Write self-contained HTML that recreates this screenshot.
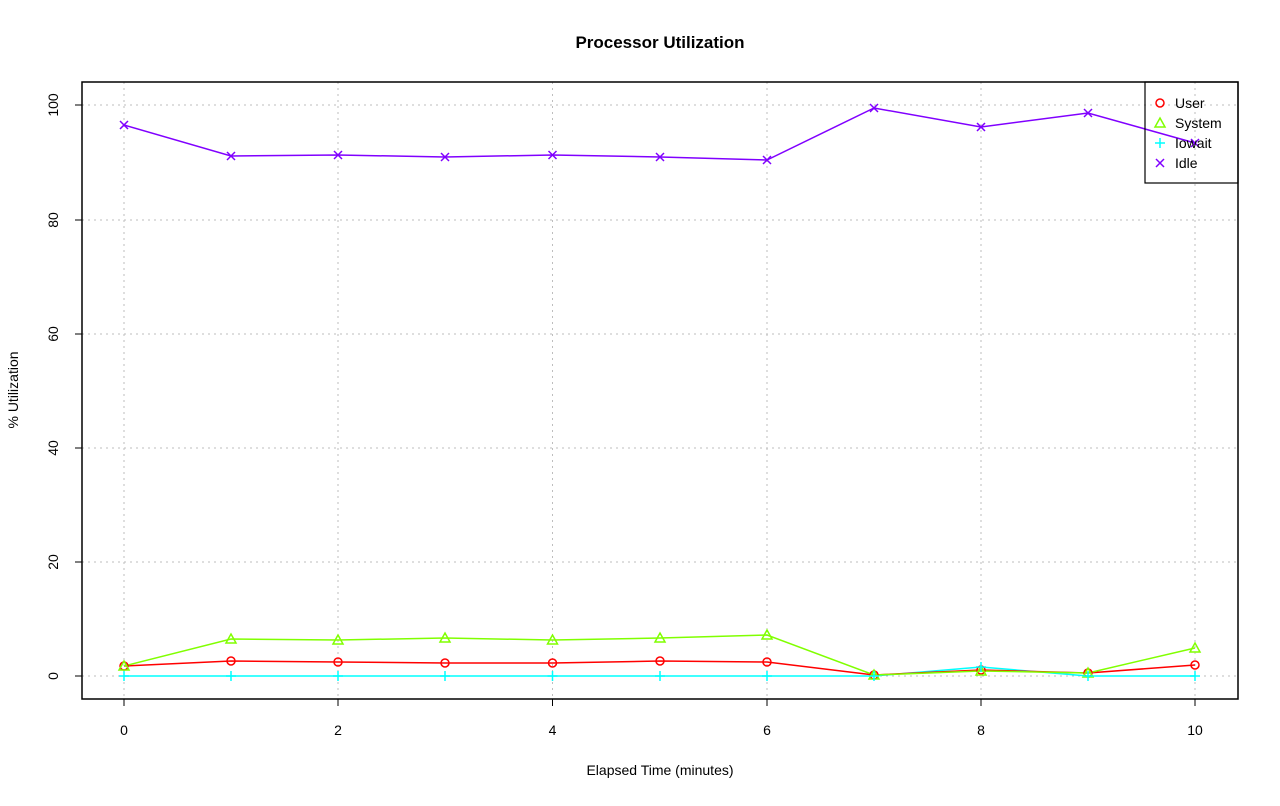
<!DOCTYPE html>
<html><head><style>body{margin:0;background:#fff}</style></head><body>
<svg width="1280" height="801" xmlns="http://www.w3.org/2000/svg" font-family="Liberation Sans, sans-serif">
<rect width="1280" height="801" fill="#fff"/>
<text x="660" y="48" text-anchor="middle" font-size="17" font-weight="bold">Processor Utilization</text>
<g stroke="#bebebe" stroke-dasharray="2,4" stroke-width="1">
<line x1="124" y1="82" x2="124" y2="699"/><line x1="338" y1="82" x2="338" y2="699"/><line x1="552.5" y1="82" x2="552.5" y2="699"/><line x1="767" y1="82" x2="767" y2="699"/><line x1="981" y1="82" x2="981" y2="699"/><line x1="1195" y1="82" x2="1195" y2="699"/>
<line x1="82" y1="676" x2="1238" y2="676"/><line x1="82" y1="562" x2="1238" y2="562"/><line x1="82" y1="448" x2="1238" y2="448"/><line x1="82" y1="334" x2="1238" y2="334"/><line x1="82" y1="220" x2="1238" y2="220"/><line x1="82" y1="105" x2="1238" y2="105"/>
</g>
<rect x="82" y="82" width="1156" height="617" fill="none" stroke="#000" stroke-width="1.5"/>
<g stroke="#000"><line x1="124" y1="699" x2="1195" y2="699"/>
<line x1="124" y1="699" x2="124" y2="706"/><line x1="338" y1="699" x2="338" y2="706"/><line x1="552.5" y1="699" x2="552.5" y2="706"/><line x1="767" y1="699" x2="767" y2="706"/><line x1="981" y1="699" x2="981" y2="706"/><line x1="1195" y1="699" x2="1195" y2="706"/>
<line x1="82" y1="105" x2="82" y2="676"/>
<line x1="75" y1="676" x2="82" y2="676"/><line x1="75" y1="562" x2="82" y2="562"/><line x1="75" y1="448" x2="82" y2="448"/><line x1="75" y1="334" x2="82" y2="334"/><line x1="75" y1="220" x2="82" y2="220"/><line x1="75" y1="105" x2="82" y2="105"/></g>
<g font-size="14" text-anchor="middle">
<text x="124" y="735">0</text><text x="338" y="735">2</text><text x="552.5" y="735">4</text><text x="767" y="735">6</text><text x="981" y="735">8</text><text x="1195" y="735">10</text>
<text x="660" y="775">Elapsed Time (minutes)</text>
<g transform="rotate(-90)"><text x="-676" y="58">0</text><text x="-562" y="58">20</text><text x="-448" y="58">40</text><text x="-334" y="58">60</text><text x="-220" y="58">80</text><text x="-105" y="58">100</text><text x="-390" y="18">% Utilization</text></g>
</g>
<g fill="none" stroke-width="1.5">
<polyline stroke="#00ffff" points="124,676 231,676 338,676 445,676 552.5,676 660,676 767,676 874,676 981,667 1088,676 1195,676"/>
<polyline stroke="#ff0000" points="124,666 231,661 338,662 445,663 552.5,663 660,661 767,662 874,675 981,670 1088,673 1195,665"/>
<polyline stroke="#80ff00" points="124,666 231,639 338,640 445,638 552.5,640 660,638 767,635 874,675 981,671 1088,673 1195,648"/>
<polyline stroke="#8000ff" points="124,125 231,156 338,155 445,157 552.5,155 660,157 767,160 874,108 981,127 1088,113 1195,143"/>
</g>
<g fill="none" stroke-width="1.5">
<g stroke="#ff0000"><circle cx="124" cy="666" r="4"/><circle cx="231" cy="661" r="4"/><circle cx="338" cy="662" r="4"/><circle cx="445" cy="663" r="4"/><circle cx="552.5" cy="663" r="4"/><circle cx="660" cy="661" r="4"/><circle cx="767" cy="662" r="4"/><circle cx="874" cy="675" r="4"/><circle cx="981" cy="670" r="4"/><circle cx="1088" cy="673" r="4"/><circle cx="1195" cy="665" r="4"/></g>
<g stroke="#80ff00"><path d="M124,661l5,9h-10z M231,634l5,9h-10z M338,635l5,9h-10z M445,633l5,9h-10z M552.5,635l5,9h-10z M660,633l5,9h-10z M767,630l5,9h-10z M874,670l5,9h-10z M981,666l5,9h-10z M1088,668l5,9h-10z M1195,643l5,9h-10z"/></g>
<g stroke="#00ffff"><path d="M119,676h10M124,671v10 M226,676h10M231,671v10 M333,676h10M338,671v10 M440,676h10M445,671v10 M547.5,676h10M552.5,671v10 M655,676h10M660,671v10 M762,676h10M767,671v10 M869,676h10M874,671v10 M976,667h10M981,662v10 M1083,676h10M1088,671v10 M1190,676h10M1195,671v10"/></g>
<g stroke="#8000ff"><path d="M120,121l8,8m0,-8l-8,8 M227,152l8,8m0,-8l-8,8 M334,151l8,8m0,-8l-8,8 M441,153l8,8m0,-8l-8,8 M548.5,151l8,8m0,-8l-8,8 M656,153l8,8m0,-8l-8,8 M763,156l8,8m0,-8l-8,8 M870,104l8,8m0,-8l-8,8 M977,123l8,8m0,-8l-8,8 M1084,109l8,8m0,-8l-8,8 M1191,139l8,8m0,-8l-8,8"/></g>
</g>
<rect x="1145" y="82" width="93" height="101" fill="none" stroke="#000" stroke-width="1.2"/>
<g fill="none" stroke-width="1.5">
<circle cx="1160" cy="103" r="4" stroke="#ff0000"/>
<path d="M1160,118l5,9h-10z" stroke="#80ff00"/>
<path d="M1155,143h10M1160,138v10" stroke="#00ffff"/>
<path d="M1156,159l8,8m0,-8l-8,8" stroke="#8000ff"/>
</g>
<g font-size="14"><text x="1175" y="108">User</text><text x="1175" y="128">System</text><text x="1175" y="148">Iowait</text><text x="1175" y="168">Idle</text></g>
</svg>
</body></html>
